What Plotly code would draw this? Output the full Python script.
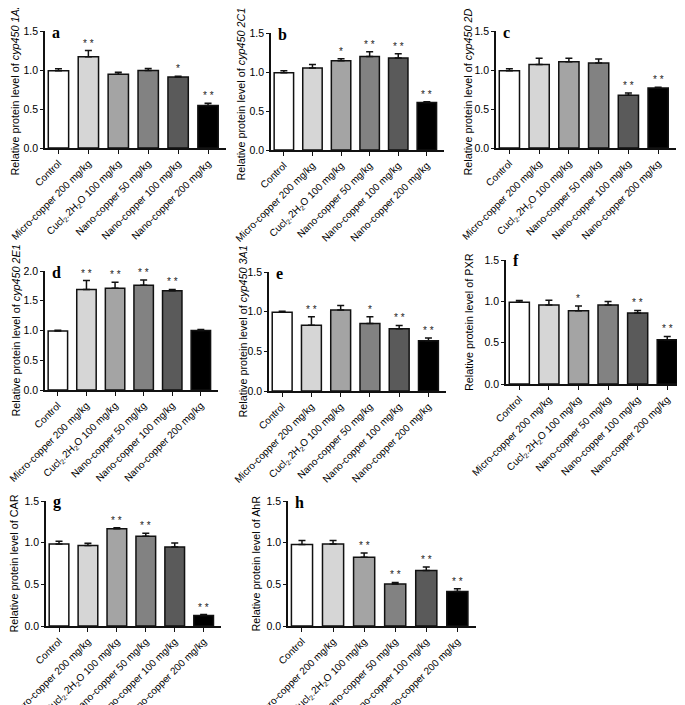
import plotly.graph_objects as go

W, H = 685, 705

categories = ["Control", "Micro-copper 200 mg/kg",
              "Cucl<sub>2</sub>.2H<sub>2</sub>O 100 mg/kg",
              "Nano-copper 50 mg/kg", "Nano-copper 100 mg/kg",
              "Nano-copper 200 mg/kg"]
bar_colors = ["#ffffff", "#d6d6d6", "#a4a4a4", "#828282", "#5a5a5a", "#000000"]

letters = ["a", "b", "c", "d", "e", "f", "g", "h"]
targets = ["<i>cyp450 1A2</i>", "<i>cyp450 2C11</i>", "<i>cyp450 2D6</i>",
           "<i>cyp450 2E1</i>", "<i>cyp450 3A1</i>", "PXR", "CAR", "AhR"]

a_values = [0.99, 1.17, 0.945, 0.995, 0.91, 0.545]
a_errors = [0.025, 0.08, 0.025, 0.025, 0.01, 0.03]
a_stars = ["", "**", "", "", "*", "**"]

b_values = [0.99, 1.05, 1.145, 1.20, 1.18, 0.61]
b_errors = [0.025, 0.045, 0.025, 0.06, 0.055, 0.01]
b_stars = ["", "", "*", "**", "**", "**"]

c_values = [0.99, 1.07, 1.105, 1.09, 0.675, 0.77]
c_errors = [0.025, 0.08, 0.045, 0.05, 0.03, 0.01]
c_stars = ["", "", "", "", "**", "**"]

d_values = [0.99, 1.69, 1.71, 1.76, 1.67, 1.0]
d_errors = [0.015, 0.15, 0.10, 0.09, 0.02, 0.015]
d_stars = ["", "**", "**", "**", "**", ""]

e_values = [0.993, 0.83, 1.02, 0.85, 0.786, 0.634]
e_errors = [0.012, 0.105, 0.057, 0.085, 0.04, 0.033]
e_stars = ["", "**", "", "*", "**", "**"]

f_values = [0.99, 0.957, 0.885, 0.957, 0.86, 0.535]
f_errors = [0.02, 0.055, 0.06, 0.04, 0.03, 0.04]
f_stars = ["", "", "*", "", "**", "**"]

g_values = [0.985, 0.965, 1.166, 1.078, 0.949, 0.125]
g_errors = [0.032, 0.028, 0.012, 0.036, 0.048, 0.012]
g_stars = ["", "", "**", "**", "", "**"]

h_values = [0.977, 0.985, 0.824, 0.503, 0.667, 0.414]
h_errors = [0.048, 0.04, 0.053, 0.02, 0.041, 0.032]
h_stars = ["", "", "**", "**", "**", "**"]

y_max = [1.5, 1.5, 1.5, 2.0, 1.5, 1.5, 1.5, 1.5]

all_values = [a_values, b_values, c_values, d_values, e_values, f_values, g_values, h_values]
all_errors = [a_errors, b_errors, c_errors, d_errors, e_errors, f_errors, g_errors, h_errors]
all_stars = [a_stars, b_stars, c_stars, d_stars, e_stars, f_stars, g_stars, h_stars]

# panel geometry in pixels: (axis x start, axis x end, y top, y bottom, y-title x)
geom = [
    (37, 218, 23, 140, 6),
    (263, 436, 25, 142, 232),
    (488, 668, 23, 140, 459),
    (37, 210, 263, 382, 8),
    (261, 438, 264, 383, 234),
    (498, 677, 252, 376, 461),
    (38, 213, 493, 618, 5),
    (280, 468, 493, 618, 247),
]

FONT = "Liberation Sans, Arial, sans-serif"
fig = go.Figure()
annotations = []
layout = dict(
    width=W, height=H, margin=dict(l=0, r=0, t=0, b=0),
    paper_bgcolor="white", plot_bgcolor="white", showlegend=False,
    font=dict(family=FONT, color="black"),
)

for i in range(8):
    n = i + 1
    sfx = "" if n == 1 else str(n)
    x0, x1, yt, yb, tx = geom[i]
    vals, errs, stars = all_values[i], all_errors[i], all_stars[i]
    xs = list(range(len(categories)))
    fig.add_trace(go.Bar(
        x=xs, y=vals, width=0.68,
        marker=dict(color=bar_colors, line=dict(color="#111111", width=1.5)),
        error_y=dict(type="data", array=errs, arrayminus=[0] * len(errs),
                     symmetric=False, color="#111111", thickness=1.5, width=3.5),
        xaxis="x" + sfx, yaxis="y" + sfx, hoverinfo="skip",
    ))
    layout["xaxis" + sfx] = dict(
        domain=[x0 / W, x1 / W], range=[-0.45, 5.6], anchor="y" + sfx,
        tickmode="array", tickvals=xs, ticktext=categories, tickangle=-45,
        ticklabeloverflow="allow",
        tickfont=dict(size=10, family=FONT), showline=True, linecolor="#111111",
        linewidth=1.5, ticks="outside", ticklen=4, tickwidth=1.3, tickcolor="#111111",
        showgrid=False, zeroline=False, automargin=False, fixedrange=True,
    )
    layout["yaxis" + sfx] = dict(
        domain=[1 - yb / H, 1 - yt / H], range=[0, y_max[i]], anchor="x" + sfx,
        dtick=0.5, tickformat=".1f", tickfont=dict(size=10.5, family=FONT),
        showline=True, linecolor="#111111", linewidth=1.5, ticks="outside",
        ticklen=3, tickwidth=1.3, tickcolor="#111111", showgrid=False,
        zeroline=False, automargin=False, fixedrange=True,
    )
    annotations.append(dict(
        x=tx / W, y=1 - (yt + yb) / 2 / H, xref="paper", yref="paper",
        text="Relative protein level of " + targets[i], textangle=-90,
        showarrow=False, xanchor="center", yanchor="middle",
        font=dict(size=10.8, family=FONT, color="black"),
    ))
    for j, s in enumerate(stars):
        if s:
            annotations.append(dict(
                x=j, y=vals[j] + errs[j], xref="x" + sfx, yref="y" + sfx,
                text=" ".join(s), showarrow=False, yanchor="bottom", yshift=0,
                font=dict(size=10, family=FONT, color="#222222"),
            ))
    annotations.append(dict(
        x=(x0 + 5) / W, y=1 - (yt + 1) / H, xref="paper", yref="paper",
        text="<b>" + letters[i] + "</b>", showarrow=False, xanchor="left",
        yanchor="middle",
        font=dict(size=16, family="Liberation Serif, Times New Roman, serif", color="black"),
    ))

layout["annotations"] = annotations
fig.update_layout(**layout)
fig.write_html("out.html")
